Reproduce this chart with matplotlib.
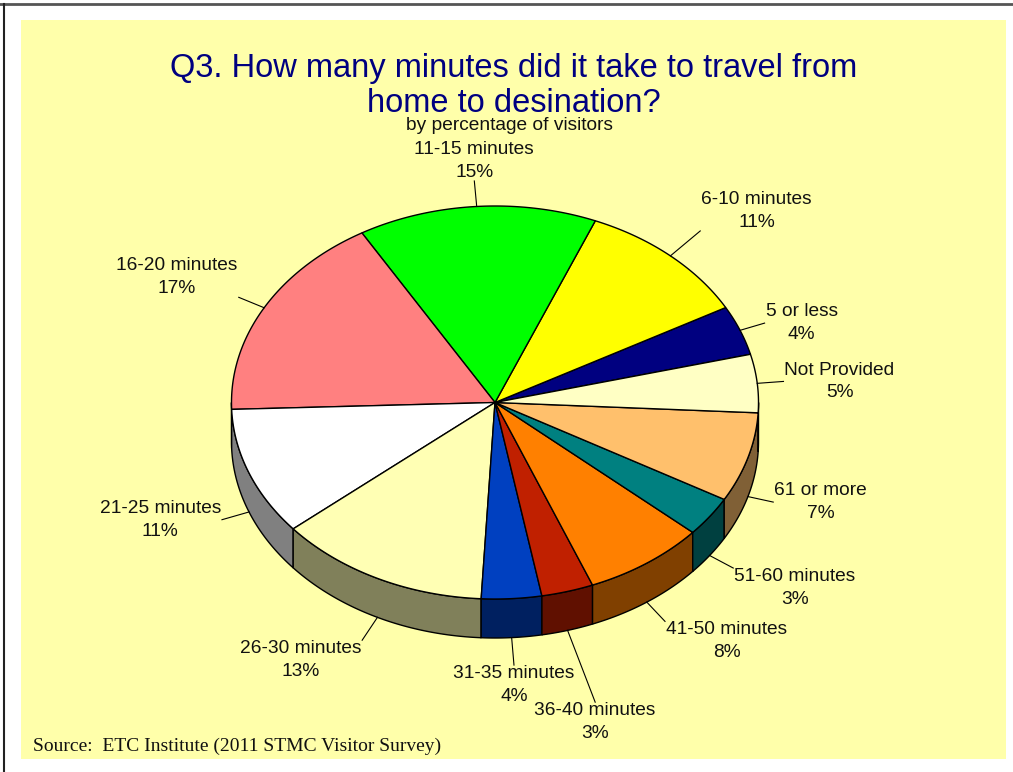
#!/usr/bin/env python3
"""3D-style pie: travel time from home to destination (STMC visitor survey)."""

import numpy as np
import matplotlib.pyplot as plt
from matplotlib.patches import Polygon, Rectangle

# data (share of visitors in %)
categories = ["5 or less", "6-10 minutes", "11-15 minutes", "16-20 minutes",
              "21-25 minutes", "26-30 minutes", "31-35 minutes", "36-40 minutes",
              "41-50 minutes", "51-60 minutes", "61 or more", "Not Provided"]
shares = [4.1, 10.8, 14.7, 17.2, 10.6, 13.1, 3.7, 3.2, 7.5, 3.3, 7.4, 4.8]

# styling
top_colors = ["#000080", "#FFFF00", "#00FF00", "#FF8080", "#FFFFFF", "#FFFFB4",
              "#0040C0", "#C02000", "#FF8000", "#008080", "#FFC06C", "#FFFFC4"]
leader_len = [1.10, 1.17, 1.13, 1.11, 1.11, 1.13, 1.14, 1.38, 1.12, 1.11, 1.10, 1.10]

W, H = 1013, 772
CX, CY = 495.0, 402.5      # centre of the top face (pixels)
RA, RB = 263.5, 196.5      # semi axes of the top face
DEPTH = 39.0               # thickness of the pie
START = 14.2               # angle where the first slice starts (deg, ccw)
LABEL_FONT = 13.8

fig = plt.figure(figsize=(W / 100, H / 100), dpi=100)
ax = fig.add_axes([0, 0, 1, 1])
ax.set_xlim(0, W)
ax.set_ylim(H, 0)
ax.axis("off")

# slide background + frame
ax.add_patch(Rectangle((21, 20), 985, 739, facecolor="#FFFFAA", edgecolor="none", zorder=0))
ax.plot([0, W], [4, 4], color="#555555", lw=2, zorder=1)
ax.plot([4, 4], [4, H], color="#222222", lw=1.5, zorder=1)


def ell(t_deg, r=1.0, dy=0.0):
    t = np.radians(t_deg)
    return CX + r * RA * np.cos(t), CY - r * RB * np.sin(t) + dy


def darken(c, f=0.5):
    rgb = np.array(plt.matplotlib.colors.to_rgb(c))
    return tuple(rgb * f)


total = sum(shares)
spans = [s / total * 360 for s in shares]
bounds = START + np.concatenate([[0], np.cumsum(spans)])

# side walls (only the front half, 180..360 deg, is visible)
for i, col in enumerate(top_colors):
    t1, t2 = bounds[i], bounds[i + 1]
    for lo_lim, hi_lim in [(180, 360), (540, 720)]:
        lo, hi = max(t1, lo_lim), min(t2, hi_lim)
        if hi <= lo:
            continue
        tt = np.linspace(lo, hi, 80)
        xs, ys = ell(tt)
        xb, yb = ell(tt[::-1], dy=DEPTH)
        pts = np.column_stack([np.concatenate([xs, xb]), np.concatenate([ys, yb])])
        ax.add_patch(Polygon(pts, closed=True, facecolor=darken(col),
                             edgecolor="black", lw=1, zorder=2))

# top faces
for i, col in enumerate(top_colors):
    tt = np.linspace(bounds[i], bounds[i + 1], 120)
    xs, ys = ell(tt)
    pts = np.column_stack([np.concatenate([[CX], xs]), np.concatenate([[CY], ys])])
    ax.add_patch(Polygon(pts, closed=True, facecolor=col,
                         edgecolor="black", lw=1, zorder=3))

# labels with leader lines
for i, (name, val) in enumerate(zip(categories, shares)):
    mid = (bounds[i] + bounds[i + 1]) / 2
    c, s = np.cos(np.radians(mid)), np.sin(np.radians(mid))
    dy = DEPTH if s < 0 else 0.0
    x0, y0 = ell(mid, 1.0, dy)
    x1, y1 = ell(mid, leader_len[i], dy)
    ax.plot([x0, x1], [y0, y1], color="black", lw=0.8, zorder=4)
    ha = "left" if c > 0.3 else ("right" if c < -0.3 else "center")
    va = "bottom" if s > 0.42 else ("top" if s < -0.42 else "center")
    ax.text(x1 + (1 if ha == "left" else -1 if ha == "right" else 0), y1,
            f"{name}\n{val:.0f}%", ha=ha, va=va, multialignment="center",
            fontsize=LABEL_FONT, family="Liberation Sans", color="#111111",
            linespacing=1.45, zorder=5)

# titles
ax.text(514, 86, "Q3. How many minutes did it take to travel from\nhome to desination?",
        ha="center", va="center", fontsize=23.5, family="Liberation Sans",
        color="#000080", linespacing=1.2, zorder=5)
ax.text(510, 126, "by percentage of visitors", ha="center", va="center",
        fontsize=LABEL_FONT, family="Liberation Sans", color="#111111", zorder=5)
ax.text(33, 746, "Source:  ETC Institute (2011 STMC Visitor Survey)", ha="left",
        va="center", fontsize=14, family="Liberation Serif", color="#111111", zorder=5)

fig.savefig("out.png", dpi=100)
